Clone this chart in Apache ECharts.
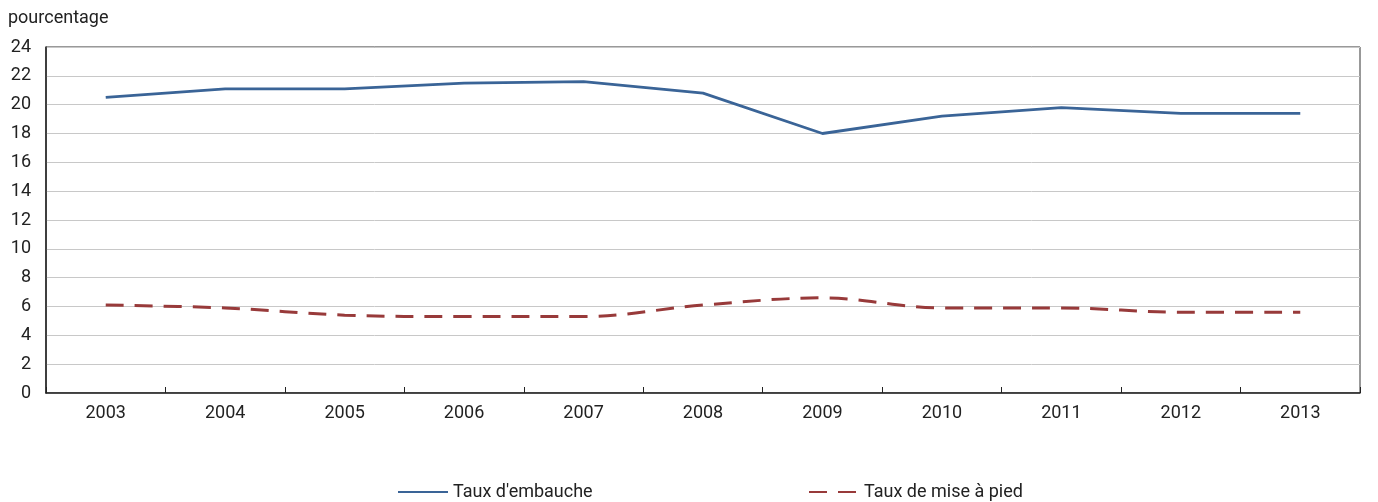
<!DOCTYPE html>
<html>
<head>
<meta charset="utf-8">
<script src="https://cdn.jsdelivr.net/npm/echarts@6/dist/echarts.min.js"></script>
<style>
  html, body { margin: 0; padding: 0; background: #fff; }
  #chart { width: 1378px; height: 502px; }
</style>
</head>
<body>
<div id="chart"></div>
<script>
// données
const years = ['2003', '2004', '2005', '2006', '2007', '2008', '2009', '2010', '2011', '2012', '2013']
const embauche = [20.5, 21.1, 21.1, 21.5, 21.6, 20.8, 18.0, 19.2, 19.8, 19.4, 19.4]
const misePied = [6.1, 5.9, 5.4, 5.3, 5.3, 6.1, 6.6, 5.9, 5.9, 5.6, 5.6]
const seriesNames = ["Taux d'embauche", 'Taux de mise à pied']

const font = 'Roboto, "Liberation Sans", sans-serif'
const txt = {fontFamily: font, fontSize: 18, color: '#222'}

const chart = echarts.init(document.getElementById('chart'))

const legendBase = {
  top: 478,
  itemWidth: 50,
  itemHeight: 14,
  itemGap: 10,
  itemStyle: {opacity: 0},
  textStyle: txt
}

const option = {
  animation: false,
  textStyle: {fontFamily: font},
  title: {
    text: 'pourcentage',
    left: 3,
    top: 4,
    textStyle: {...txt, fontWeight: 'normal'}
  },
  legend: [
    {...legendBase, data: [seriesNames[0]], left: 392},
    {...legendBase, data: [seriesNames[1]], left: 803}
  ],
  grid: {
    left: 46,
    right: 18,
    top: 47,
    bottom: 109,
    show: true,
    borderColor: '#333',
    borderWidth: 1
  },
  xAxis: {
    type: 'category',
    data: years,
    boundaryGap: true,
    axisLine: {lineStyle: {color: '#222', width: 1.5}},
    axisTick: {show: true, inside: true, length: 6, lineStyle: {color: '#222'}},
    axisLabel: {...txt, margin: 11}
  },
  yAxis: {
    type: 'value',
    min: 0,
    max: 24,
    interval: 2,
    axisLine: {show: true, lineStyle: {color: '#222', width: 1.5}},
    axisTick: {show: false},
    axisLabel: {...txt, margin: 15},
    splitLine: {lineStyle: {color: '#c8c8c8', width: 1}}
  },
  series: [
    {
      name: seriesNames[0],
      type: 'line',
      data: embauche,
      symbol: 'none',
      lineStyle: {color: '#3a6497', width: 2.8},
      itemStyle: {color: '#3a6497'}
    },
    {
      name: seriesNames[1],
      type: 'line',
      data: misePied,
      symbol: 'none',
      smooth: 0.35,
      lineStyle: {color: '#983a3a', width: 3, type: [18, 11]},
      itemStyle: {color: '#983a3a'}
    }
  ]
}

chart.setOption(option)
</script>
</body>
</html>
